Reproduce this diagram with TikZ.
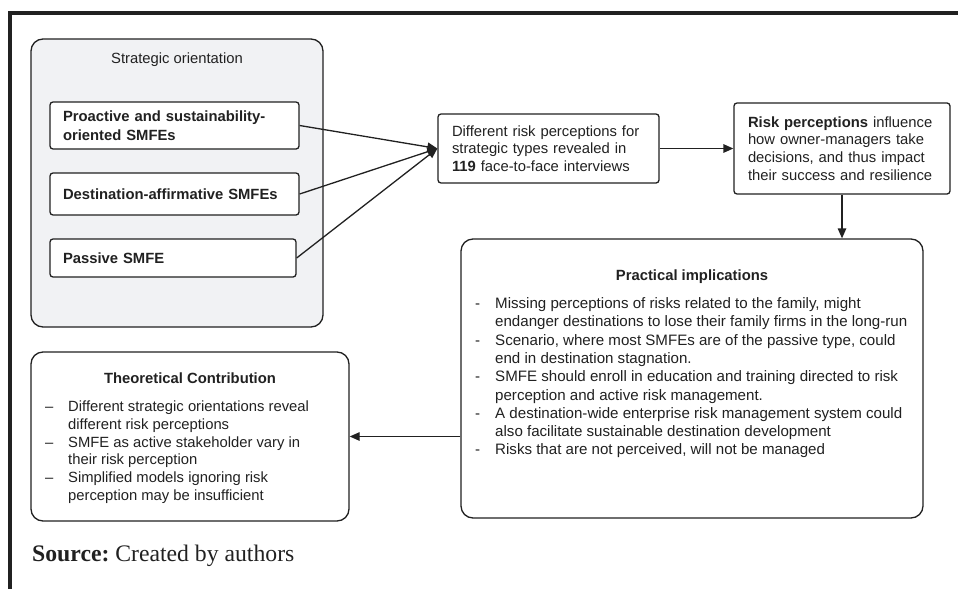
\documentclass[tikz,border=0pt]{standalone}
\usepackage{fontspec}
\setmainfont{Liberation Serif}
\setsansfont{Liberation Sans}
\usetikzlibrary{arrows.meta}
\definecolor{framecol}{gray}{0.13}
\definecolor{inkcol}{gray}{0.13}
\definecolor{groupfill}{RGB}{241,242,244}
\tikzset{
  txt/.style={font=\sffamily\fontsize{14.8}{17.6}\selectfont,text=inkcol},
  btxt/.style={font=\sffamily\bfseries\fontsize{14.8}{18.6}\selectfont,text=inkcol},
  card/.style={draw=inkcol,line width=1.3pt,rounded corners=3pt,fill=white,inner ysep=0pt,align=left},
  bigcard/.style={draw=inkcol,line width=1.3pt,rounded corners=12pt,fill=white,inner sep=0pt},
  link/.style={draw=inkcol,line width=1.3pt,-{Triangle[length=10pt,width=8.5pt]}},
}
\begin{document}
\begin{tikzpicture}[x=1pt,y=-1pt]
  \useasboundingbox (0,0) rectangle (958,589);
  \draw[framecol,line width=4pt] (958,13) -- (9.5,13) -- (9.5,589);
  \node[bigcard,fill=groupfill,minimum width=292pt,minimum height=288pt] (strat) at (177,183) {};
  \node[txt] (strattitle) at (177,60) {Strategic orientation};
  \node[card,btxt,inner xsep=13pt,text width=223pt,minimum height=47pt] (pro) at (174.5,125.5) {Proactive and sustainability-\\oriented SMFEs};
  \node[card,btxt,inner xsep=13pt,text width=223pt,minimum height=42pt] (dest) at (174.5,194) {Destination-affirmative SMFEs};
  \node[card,btxt,inner xsep=13pt,text width=220pt,minimum height=38pt] (pas) at (173,258) {Passive SMFE};
  \node[card,txt,inner xsep=14pt,text width=193pt,minimum height=69pt] (intv) at (548.5,148.5) {Different risk perceptions for\\strategic types revealed in\\\textbf{119} face-to-face interviews};
  \node[card,txt,inner xsep=14pt,text width=188pt,minimum height=91pt] (risk) at (842,148.5) {\textbf{Risk perceptions} influence\\how owner-managers take\\decisions, and thus impact\\their success and resilience};
  \node[bigcard,minimum width=462pt,minimum height=279pt] (prac) at (692,378.5) {};
  \node[btxt] (practitle) at (692,277) {Practical implications};
  \node[txt,anchor=base west,inner sep=0pt] (praclist) at (475,308.5) {\fontsize{15.1}{18.3}\selectfont
    \begin{tabular}[t]{@{}p{20pt}@{}l@{}}
    - & Missing perceptions of risks related to the family, might\\
      & endanger destinations to lose their family firms in the long-run\\
    - & Scenario, where most SMFEs are of the passive type, could\\
      & end in destination stagnation.\\
    - & SMFE should enroll in education and training directed to risk\\
      & perception and active risk management.\\
    - & A destination-wide enterprise risk management system could\\
      & also facilitate sustainable destination development\\
    - & Risks that are not perceived, will not be managed
    \end{tabular}};
  \node[bigcard,minimum width=318pt,minimum height=169pt] (theo) at (190,436.5) {};
  \node[btxt] (theotitle) at (190,378) {Theoretical Contribution};
  \node[txt,anchor=base west,inner sep=0pt] (theolist) at (45,411.5) {\fontsize{14.8}{17.8}\selectfont
    \begin{tabular}[t]{@{}p{23pt}@{}l@{}}
    -- & Different strategic orientations reveal\\
       & different risk perceptions\\
    -- & SMFE as active stakeholder vary in\\
       & their risk perception\\
    -- & Simplified models ignoring risk\\
       & perception may be insufficient
    \end{tabular}};
  \draw[link] (pro.east) -- (intv.west);
  \draw[link] (dest.east) -- (intv.west);
  \draw[link] (pas.east) -- (intv.west);
  \draw[link] (intv.east) -- (risk.west);
  \draw[link] (risk.south) -- (risk.south |- prac.north);
  \draw[link] (prac.west |- theo.east) -- (theo.east);
  \node[anchor=base west,inner sep=0pt,font=\fontsize{23.7}{28}\selectfont,text=inkcol] (source) at (32,561) {\textbf{Source:}~Created by authors};
\end{tikzpicture}
\end{document}
